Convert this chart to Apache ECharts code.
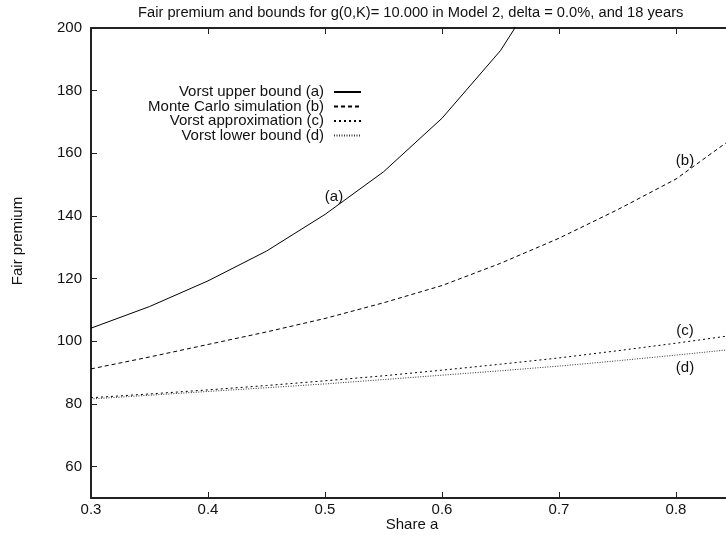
<!DOCTYPE html>
<html>
<head>
<meta charset="utf-8">
<script src="https://cdn.jsdelivr.net/npm/echarts@6/dist/echarts.min.js"></script>
<style>
  html, body { margin: 0; padding: 0; background: #fff; }
  #chart { width: 726px; height: 535px; }
</style>
</head>
<body>
<div id="chart"></div>
<script>
// Share a (x) sampled every 0.05
const shareA = [0.30, 0.35, 0.40, 0.45, 0.50, 0.55, 0.60, 0.65, 0.70, 0.75, 0.80, 0.85];

// Fair premium curves
const upperBound   = [104.2, 111.1, 119.3, 128.8, 140.5, 154.1, 171.2, 192.8, 222.0];
const monteCarlo   = [91.2, 95.0, 99.0, 103.0, 107.3, 112.3, 117.8, 124.9, 132.9, 142.0, 151.8, 165.3];
const approxVorst  = [82.0, 83.2, 84.5, 85.9, 87.4, 89.0, 90.8, 92.7, 94.7, 97.0, 99.4, 102.0];
const lowerBound   = [81.6, 82.8, 84.0, 85.2, 86.4, 87.8, 89.2, 90.6, 92.1, 93.8, 95.6, 97.5];

const seriesNames = [
  'Vorst upper bound (a)',
  'Monte Carlo simulation (b)',
  'Vorst approximation (c)',
  'Vorst lower bound (d)'
];
const curveTags = ['(a)', '(b)', '(c)', '(d)'];
const tagIndex = [4, 10, 10, 10];

const yTicks = [60, 80, 100, 120, 140, 160, 180, 200];

const FONT = '"Liberation Sans", Arial, Helvetica, sans-serif';
const FS = 15;
const INK = '#111';

const curves = [upperBound, monteCarlo, approxVorst, lowerBound];
const lineStyles = [
  { type: 'solid', color: '#000', width: 1 },
  { type: [4, 3], color: '#000', width: 1 },
  { type: [2, 3], color: '#000', width: 1 },
  { type: [1, 1.5], color: '#333', width: 1 }
];
const tagOffsets = [[9, -18], [9, -18], [9, -12], [9, 13]];

const lineSeries = curves.map((vals, i) => ({
  name: seriesNames[i],
  type: 'line',
  data: vals.map((v, k) => [shareA[k], v]),
  showSymbol: false,
  symbol: 'none',
  lineStyle: lineStyles[i],
  itemStyle: { color: lineStyles[i].color },
  clip: true,
  silent: true,
  z: 3
}));

const tagSeries = curves.map((vals, i) => ({
  name: 'tag' + i,
  type: 'scatter',
  symbolSize: 0,
  silent: true,
  itemStyle: { opacity: 1 },
  data: [[shareA[tagIndex[i]], vals[tagIndex[i]]]],
  label: {
    show: true,
    position: 'inside',
    offset: tagOffsets[i],
    formatter: curveTags[i],
    fontFamily: FONT,
    fontSize: FS,
    color: INK
  },
  z: 4
}));

const legends = seriesNames.map((name, i) => ({
  data: [name],
  orient: 'vertical',
  align: 'right',
  right: 364,
  top: 84.5 + i * 14.5,
  padding: 0,
  itemWidth: 27,
  itemHeight: 14,
  selectedMode: false,
  itemStyle: { opacity: 0 },
  textStyle: { fontFamily: FONT, fontSize: FS, color: INK, padding: [0, 5, 0, 0] }
}));

const xCommon = {
  type: 'value',
  min: 0.3,
  max: 0.9,
  interval: 0.1,
  splitLine: { show: false },
  axisLine: { show: true, onZero: false, lineStyle: { color: '#222', width: 2 } },
  axisTick: { show: true, inside: true, length: 6, lineStyle: { color: '#222', width: 1 } }
};

const chart = echarts.init(document.getElementById('chart'), null, { renderer: 'canvas' });
chart.setOption({
  animation: false,
  backgroundColor: '#fff',
  title: {
    text: 'Fair premium and bounds for g(0,K)= 10.000 in Model 2, delta = 0.0%, and 18 years',
    left: 138,
    top: 5,
    padding: 0,
    textStyle: { fontFamily: FONT, fontSize: 14.7, fontWeight: 'normal', color: INK }
  },
  legend: legends,
  // the plot runs on past the right edge of the page, out to Share a = 0.9
  grid: { left: 91, width: 702, top: 28, bottom: 37, containLabel: false, outerBoundsMode: 'none' },
  xAxis: [
    Object.assign({}, xCommon, {
      position: 'bottom',
      name: 'Share a',
      nameLocation: 'middle',
      nameGap: 19,
      nameMoveOverlap: false,
      nameTextStyle: { fontFamily: FONT, fontSize: FS, color: INK, padding: [0, 60, 0, 0] },
      axisLabel: {
        fontFamily: FONT, fontSize: FS, color: INK, margin: 4,
        showMaxLabel: false,
        formatter: v => v.toFixed(1)
      }
    }),
    Object.assign({}, xCommon, {
      position: 'top',
      axisLabel: { show: false }
    })
  ],
  yAxis: {
    type: 'value',
    min: 50,
    max: 200,
    splitLine: { show: false },
    axisLine: { show: true, onZero: false, lineStyle: { color: '#222', width: 2 } },
    axisTick: { show: true, inside: true, length: 6, customValues: yTicks, lineStyle: { color: '#222', width: 1 } },
    axisLabel: { fontFamily: FONT, fontSize: FS, color: INK, margin: 9, customValues: yTicks },
    name: 'Fair premium',
    nameLocation: 'middle',
    nameRotate: 90,
    nameGap: 66,
    nameMoveOverlap: false,
    nameTextStyle: { fontFamily: FONT, fontSize: FS, color: INK, padding: [0, 0, 0, 44] }
  },
  series: lineSeries.concat(tagSeries)
});
</script>
</body>
</html>
